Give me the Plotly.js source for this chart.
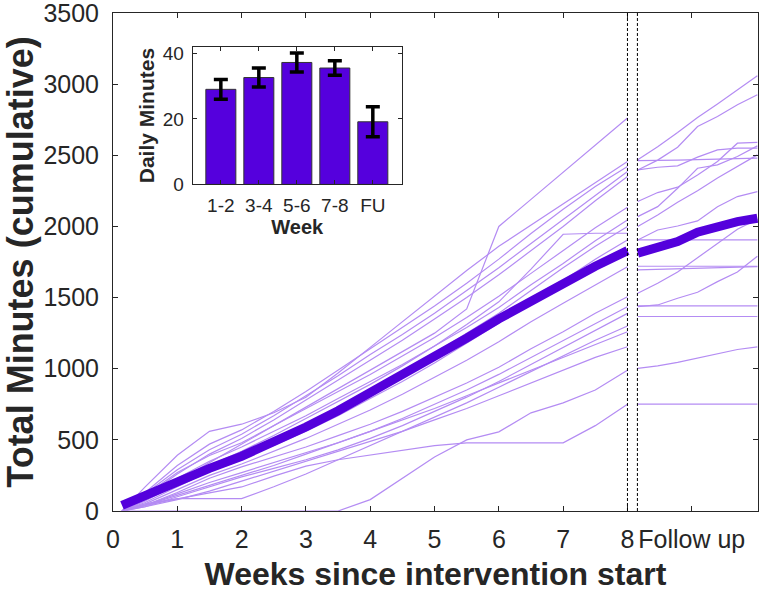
<!DOCTYPE html>
<html>
<head>
<meta charset="utf-8">
<script src="https://cdn.plot.ly/plotly-3.0.1.min.js"></script>
<style>
html,body{margin:0;padding:0;background:#fff;}
#chart{width:769px;height:592px;}
</style>
</head>
<body>
<div id="chart"></div>
<script>
// ---- main period (weeks since intervention start) ----
const weeks = [0.14, 0.5, 1, 1.5, 2, 2.5, 3, 3.5, 4, 4.5, 5, 5.5, 6, 6.5, 7, 7.5, 8];
const p01 = [0, 80, 210, 340, 470, 600, 730, 860, 990, 1120, 1250, 1420, 2000, 2190, 2380, 2570, 2762];
const p02 = [0, 170, 392, 560, 610, 690, 800, 970, 1150, 1330, 1510, 1690, 1860, 2010, 2160, 2310, 2456];
const p03 = [0, 130, 320, 470, 570, 700, 840, 990, 1140, 1290, 1440, 1600, 1770, 1950, 2120, 2280, 2421];
const p04 = [0, 120, 290, 430, 540, 670, 810, 950, 1100, 1240, 1390, 1550, 1710, 1880, 2050, 2220, 2386];
const p05 = [0, 100, 260, 400, 510, 640, 780, 920, 1060, 1200, 1350, 1500, 1660, 1830, 2000, 2180, 2351];
const p06 = [0, 110, 270, 390, 480, 600, 720, 840, 960, 1090, 1220, 1360, 1510, 1670, 1830, 1990, 2135];
const p07 = [0, 90, 230, 350, 450, 560, 670, 790, 910, 1030, 1160, 1290, 1430, 1590, 1740, 1900, 2046];
const p08 = [0, 70, 190, 300, 400, 500, 610, 730, 850, 980, 1110, 1250, 1390, 1550, 1710, 1860, 1999];
const p09 = [0, 80, 200, 320, 420, 530, 650, 770, 890, 1020, 1160, 1310, 1470, 1700, 1945, 1952, 1952];
const p10 = [0, 60, 170, 280, 370, 460, 560, 670, 790, 910, 1040, 1180, 1320, 1470, 1620, 1770, 1905];
const p11 = [0, 50, 150, 250, 330, 420, 510, 610, 710, 820, 940, 1060, 1190, 1330, 1460, 1590, 1717];
const p12 = [0, 40, 130, 230, 310, 380, 450, 530, 610, 700, 800, 900, 1010, 1140, 1260, 1390, 1506];
const p13 = [0, 40, 110, 180, 250, 320, 400, 480, 560, 650, 750, 850, 960, 1080, 1200, 1320, 1436];
const p14 = [0, 30, 100, 170, 240, 300, 360, 430, 510, 600, 700, 800, 910, 1030, 1150, 1270, 1389];
const p15 = [0, 50, 87, 87, 87, 170, 260, 360, 460, 560, 660, 760, 870, 980, 1090, 1200, 1300];
const p16 = [0, 30, 80, 140, 210, 280, 350, 420, 490, 560, 640, 720, 810, 900, 990, 1080, 1154];
const p17 = [0, 0, 0, 0, 0, 0, 0, 0, 80, 230, 380, 500, 556, 690, 760, 850, 990];
const p18 = [0, 40, 85, 125, 169, 245, 315, 360, 395, 428, 460, 479, 479, 479, 479, 600, 751];
const p19 = [0, 40, 120, 200, 270, 340, 410, 480, 560, 640, 720, 810, 900, 990, 1080, 1170, 1260];
const meanMain = [40, 110, 215, 300, 385, 480, 590, 705, 830, 955, 1085, 1215, 1350, 1475, 1600, 1720, 1830];

// ---- follow-up period ----
const fuWeeks = [8.16, 8.47, 8.78, 9.09, 9.4, 9.71, 10.02];
const f01 = [2468, 2560, 2660, 2765, 2860, 2960, 3059];
const f02 = [2397, 2466, 2557, 2702, 2773, 2855, 2925];
const f03 = [2462, 2462, 2466, 2470, 2475, 2480, 2480];
const f04 = [2397, 2416, 2426, 2487, 2538, 2550, 2550];
const f05 = [2175, 2238, 2276, 2362, 2456, 2585, 2591];
const f06 = [2069, 2139, 2268, 2409, 2433, 2491, 2566];
const f07 = [1999, 2080, 2170, 2250, 2340, 2420, 2503];
const f08 = [1905, 1905, 1905, 1905, 1905, 1905, 1905];
const f09 = [1905, 1975, 2003, 2039, 2139, 2210, 2245];
const f10 = [1720, 1720, 1720, 1720, 1720, 1720, 1720];
const f11 = [1694, 1697, 1700, 1705, 1708, 1712, 1717];
const f12 = [1436, 1448, 1495, 1537, 1612, 1680, 1790];
const f13 = [1530, 1600, 1680, 1780, 1880, 1980, 2050];
const f14 = [1002, 1020, 1045, 1075, 1100, 1135, 1154];
const f15 = [751, 751, 751, 751, 751, 751, 751];
const f16 = [1441, 1441, 1441, 1441, 1441, 1441, 1441];
const f17 = [1367, 1367, 1367, 1367, 1367, 1367, 1367];
const meanFU = [1812, 1855, 1893, 1960, 2000, 2034, 2058];

// ---- axis labels ----
const mainTickVals = [0, 1, 2, 3, 4, 5, 6, 7, 8, 9];
const mainTickText = ['0', '1', '2', '3', '4', '5', '6', '7', '8', 'Follow up'];
const yTickVals = [0, 500, 1000, 1500, 2000, 2500, 3000, 3500];

// ---- inset bar chart ----
const weekGroups = ['1-2', '3-4', '5-6', '7-8', 'FU'];
const dailyMinutes = [29.0, 32.6, 37.2, 35.5, 19.1];
const dailyErr = [3.0, 2.9, 2.9, 2.2, 4.6];

const mainSeries = [p01,p02,p03,p04,p05,p06,p07,p08,p09,p10,p11,p12,p13,p14,p15,p16,p17,p18,p19];
const fuSeries = [f01,f02,f03,f04,f05,f06,f07,f08,f09,f10,f11,f12,f13,f14,f15,f16,f17];

const thinColor = '#b48cf3';
const meanColor = '#5400dc';
const axisColor = '#262626';
const FONT = 'Liberation Sans, Arial, Helvetica, sans-serif';

const traces = [];
mainSeries.forEach(s => traces.push({x: weeks, y: s, type: 'scatter', mode: 'lines',
  line: {color: thinColor, width: 1.2}, hoverinfo: 'skip', xaxis: 'x', yaxis: 'y'}));
fuSeries.forEach(s => traces.push({x: fuWeeks, y: s, type: 'scatter', mode: 'lines',
  line: {color: thinColor, width: 1.2}, hoverinfo: 'skip', xaxis: 'x', yaxis: 'y'}));
traces.push({x: weeks, y: meanMain, type: 'scatter', mode: 'lines',
  line: {color: meanColor, width: 9}, xaxis: 'x', yaxis: 'y'});
traces.push({x: fuWeeks, y: meanFU, type: 'scatter', mode: 'lines',
  line: {color: meanColor, width: 9}, xaxis: 'x', yaxis: 'y'});
traces.push({x: [1, 2, 3, 4, 5], y: dailyMinutes, type: 'bar', width: 0.79,
  marker: {color: '#5500dd', line: {color: '#333333', width: 1}},
  error_y: {type: 'data', array: dailyErr, visible: true, color: '#000', thickness: 3.5, width: 7},
  xaxis: 'x2', yaxis: 'y2'});

const layout = {
  width: 769, height: 592,
  margin: {l: 113, r: 11, t: 13, b: 81},
  paper_bgcolor: '#fff', plot_bgcolor: '#fff',
  showlegend: false,
  font: {family: FONT, color: axisColor},
  xaxis: {
    range: [0, 10.03], tickvals: mainTickVals, ticktext: mainTickText,
    ticks: 'inside', ticklen: 5, tickcolor: axisColor, mirror: 'ticks',
    showline: true, linecolor: axisColor, linewidth: 1,
    showgrid: false, zeroline: false, ticklabeloverflow: 'allow',
    tickfont: {size: 25, family: FONT, color: axisColor}, ticklabelstandoff: 6,
    title: {text: '<b>Weeks since intervention start</b>', font: {size: 32, family: FONT, color: axisColor}, standoff: 15}
  },
  yaxis: {
    range: [0, 3500], tickvals: yTickVals,
    ticks: 'inside', ticklen: 5, tickcolor: axisColor, mirror: 'ticks',
    showline: true, linecolor: axisColor, linewidth: 1,
    showgrid: false, zeroline: false, ticklabeloverflow: 'allow',
    tickfont: {size: 25, family: FONT, color: axisColor}, ticklabelstandoff: 8,
    title: {text: '<b>Total Minutes (cumulative)</b>', font: {size: 36, family: FONT, color: axisColor}, standoff: 6}
  },
  xaxis2: {
    domain: [0.1236, 0.4476], anchor: 'y2',
    range: [0.26, 5.76], tickvals: [1, 2, 3, 4, 5], ticktext: weekGroups,
    ticks: 'inside', ticklen: 4, tickcolor: axisColor, mirror: 'ticks',
    showline: true, linecolor: axisColor, linewidth: 1,
    showgrid: false, zeroline: false,
    tickfont: {size: 19, family: FONT, color: axisColor}, ticklabelstandoff: 4,
    title: {text: '<b>Week</b>', font: {size: 20, family: FONT, color: axisColor}, standoff: 4}
  },
  yaxis2: {
    domain: [0.6558, 0.9323], anchor: 'x2',
    range: [0, 42], tickvals: [0, 20, 40],
    ticks: 'inside', ticklen: 4, tickcolor: axisColor, mirror: 'ticks',
    showline: true, linecolor: axisColor, linewidth: 1,
    showgrid: false, zeroline: false,
    tickfont: {size: 19, family: FONT, color: axisColor}, ticklabelstandoff: 4,
    title: {text: '<b>Daily Minutes</b>', font: {size: 21, family: FONT, color: axisColor}, standoff: 2}
  },
  shapes: [
    {type: 'line', xref: 'x', yref: 'paper', x0: 8, x1: 8, y0: 0, y1: 1, line: {color: '#000', width: 1, dash: '3px,2px'}},
    {type: 'line', xref: 'x', yref: 'paper', x0: 8.155, x1: 8.155, y0: 0, y1: 1, line: {color: '#000', width: 1, dash: '3px,2px'}}
  ]
};

Plotly.newPlot('chart', traces, layout, {staticPlot: true, displayModeBar: false});
</script>
</body>
</html>
